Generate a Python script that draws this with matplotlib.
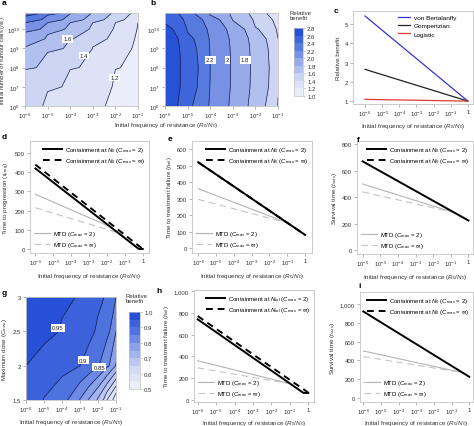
import numpy as np
import matplotlib
matplotlib.use('Agg')
import matplotlib.pyplot as plt
from matplotlib.colors import LinearSegmentedColormap
from matplotlib.lines import Line2D
from matplotlib.ticker import NullLocator

plt.rcParams['font.family'] = ['Liberation Sans', 'DejaVu Sans']
plt.rcParams['mathtext.fontset'] = 'custom'
plt.rcParams['mathtext.rm'] = 'Liberation Sans'
plt.rcParams['mathtext.it'] = 'Liberation Sans:italic'
plt.rcParams['mathtext.bf'] = 'Liberation Sans:bold'

# ---------------- data ----------------
a_freq = [1e-6, 1e-5, 1e-4, 1e-3, 1e-2, 1e-1]
a_cells = [1e6, 1e7, 1e8, 1e9, 3.16e9, 1e10, 3.16e10, 7.08e10]
a_benefit = [
    [1.441, 1.368, 1.294, 1.221, 1.147, 1.074],
    [1.517, 1.431, 1.345, 1.259, 1.172, 1.086],
    [1.625, 1.521, 1.417, 1.313, 1.208, 1.104],
    [1.789, 1.658, 1.526, 1.395, 1.263, 1.132],
    [1.909, 1.758, 1.606, 1.455, 1.303, 1.152],
    [2.071, 1.893, 1.714, 1.536, 1.357, 1.179],
    [2.304, 2.087, 1.870, 1.652, 1.435, 1.217],
    [2.538, 2.282, 2.026, 1.769, 1.513, 1.256],
]
a_label_text = ['1.2', '1.4', '1.6']
b_freq = [1e-6, 1e-5, 1e-4, 1e-3, 1e-2, 1e-1]
b_cells = [1e6, 1e7, 1e8, 1e9, 3.16e9, 1e10, 3.16e10, 7.08e10]
b_benefit = [
    [2.674, 2.418, 2.162, 1.906, 1.650, 1.394],
    [2.704, 2.448, 2.192, 1.936, 1.680, 1.424],
    [2.712, 2.456, 2.200, 1.944, 1.688, 1.432],
    [2.699, 2.443, 2.187, 1.931, 1.675, 1.419],
    [2.681, 2.425, 2.169, 1.913, 1.657, 1.401],
    [2.635, 2.379, 2.123, 1.867, 1.611, 1.355],
    [2.558, 2.302, 2.046, 1.790, 1.534, 1.278],
    [2.482, 2.226, 1.970, 1.714, 1.458, 1.202],
]
b_label_text = ['2.2', '2', '1.8']
ab_levels = [1.0, 1.2, 1.4, 1.6, 1.8, 2.0, 2.2, 2.4, 2.6, 2.8]
ab_ticklabels = ['1.0', '1.2', '1.4', '1.6', '1.8', '2.0', '2.2', '2.4', '2.6', '2.8']

c_freq = [1e-6, 1.0]
c_bertalanffy = [5.42, 1.0]
c_gompertz = [2.65, 1.0]
c_logistic = [1.09, 1.0]

d_cont2_x, d_cont2_y = [1e-6, 0.6, 1.0], [420, 0, 0]
d_continf_x, d_continf_y = [1e-6, 1.0], [440, 0]
d_mtd2_x, d_mtd2_y = [1e-6, 0.0158, 0.6, 1.0], [285, 115, 0, 0]
d_mtdinf_x, d_mtdinf_y = [1e-6, 0.06, 0.6, 1.0], [215, 80, 0, 0]

e_cont2_x, e_cont2_y = [1e-6, 1.0], [520, 80]
e_continf_x, e_continf_y = [1e-6, 1.0], [520, 80]
e_mtd2_x, e_mtd2_y = [1e-6, 0.1, 1.0], [360, 153, 80]
e_mtdinf_x, e_mtdinf_y = [1e-6, 0.1, 1.0], [295, 153, 80]

f_cont2_x, f_cont2_y = [1e-6, 1.0], [670, 225]
f_mtd2_x, f_mtd2_y = [1e-6, 0.158, 1.0], [500, 284, 225]
f_mtdinf_x, f_mtdinf_y = [1e-6, 0.158, 1.0], [440, 284, 225]

g_freq = [1e-6, 1e-5, 1e-4, 1e-3, 3.16e-3, 1e-2, 3.16e-2, 1e-1]
g_dose = [1.5, 2.0, 2.5, 3.0]
g_benefit = [
    [0.930, 0.897, 0.857, 0.797, 0.745, 0.690, 0.600, 0.500],
    [0.950, 0.937, 0.920, 0.900, 0.883, 0.853, 0.810, 0.745],
    [0.968, 0.958, 0.945, 0.925, 0.910, 0.890, 0.862, 0.800],
    [0.978, 0.970, 0.958, 0.942, 0.930, 0.912, 0.890, 0.850],
]
g_levels = [0.5, 0.55, 0.6, 0.65, 0.7, 0.75, 0.8, 0.85, 0.9, 0.95, 1.0]
g_label_text = ['0.95', '0.9', '0.85']
g_ticks = [0.5, 0.6, 0.7, 0.8, 0.9, 1.0]
g_ticklabels = ['0.5', '0.6', '0.7', '0.8', '0.9', '1.0']

h_cont2_x, h_cont2_y = [1e-6, 0.55, 1.0], [740, 65, 65]
h_continf_x, h_continf_y = [1e-6, 1.0], [770, 68]
h_mtd2_x, h_mtd2_y = [1e-6, 0.1, 0.55, 1.0], [360, 150, 65, 65]
h_mtdinf_x, h_mtdinf_y = [1e-6, 0.1, 0.55, 1.0], [295, 150, 65, 65]

i_cont2_x, i_cont2_y = [1e-6, 1.0], [920, 225]
i_mtd2_x, i_mtd2_y = [1e-6, 0.4, 1.0], [500, 270, 225]
i_mtdinf_x, i_mtdinf_y = [1e-6, 0.4, 1.0], [440, 270, 225]

log_ticks = [1e-6, 1e-5, 1e-4, 1e-3, 1e-2, 1e-1]
log_labels = [r'$10^{-6}$', r'$10^{-5}$', r'$10^{-4}$', r'$10^{-3}$', r'$10^{-2}$', r'$10^{-1}$']
log_ticks1 = log_ticks + [1.0]
log_labels1 = log_labels + ['1']

# ---------------- style ----------------
W, H = 474, 427
fig = plt.figure(figsize=(W / 100, H / 100), dpi=100)
FRAME = '#c4c4c4'
TXT = '#333333'
TICKC = '#9a9a9a'
FS = 4.3
LBL = 4.5
LINEC = '#16204e'

cmap = LinearSegmentedColormap.from_list(
    'bl', ['#f2f2fb', '#d3daf5', '#98abea', '#4f74de', '#1d48d4'])


def add_ax(l, t, r, b):
    return fig.add_axes([l / W, 1 - b / H, (r - l) / W, (b - t) / H])


def style(ax):
    for s in ax.spines.values():
        s.set_color(FRAME)
        s.set_linewidth(0.6)
    ax.tick_params(which='both', colors=TICKC, labelcolor=TXT, labelsize=FS,
                   length=2, width=0.5, pad=1.5)


def logx(ax, ticks, labels):
    ax.set_xscale('log')
    ax.set_xticks(ticks)
    ax.set_xticklabels(labels)
    ax.xaxis.set_minor_locator(NullLocator())


def letter(x, y, s):
    fig.text(x / W, 1 - y / H, s, fontsize=6, fontweight='bold', va='top', ha='left')


def contour_panel(ax, X, Y, Z, levels, vmin, vmax, label_pos, label_text):
    cf = ax.contourf(X, Y, Z, levels=levels, cmap=cmap, vmin=vmin, vmax=vmax)
    ax.contour(X, Y, Z, levels=levels, colors=LINEC, linewidths=0.5)
    for (x, y), s in zip(label_pos, label_text):
        ax.text(x, y, s, fontsize=FS, color='#222222', ha='center', va='center', zorder=5,
                bbox=dict(boxstyle='square,pad=0.2', fc='white', ec='none'))
    return cf


xlab = r'Initial frequency of resistance ($R_0/N_0$)'
cell_ticks = [1e6, 1e7, 1e8, 1e9, 1e10]
cell_labels = [r'$10^{6}$', r'$10^{7}$', r'$10^{8}$', r'$10^{9}$', r'$10^{10}$']

# ---------------- panel a ----------------
ax = add_ax(25, 14, 138, 107)
ax.set_xscale('log')
ax.set_yscale('log')
contour_panel(ax, a_freq, a_cells, a_benefit, ab_levels, 1.0, 2.8,
              [(10 ** -2.04, 10 ** 7.48), (10 ** -3.39, 10 ** 8.64), (10 ** -4.13, 10 ** 9.5)],
              a_label_text)
ax.set_yticks(cell_ticks)
ax.set_yticklabels(cell_labels)
ax.yaxis.set_minor_locator(NullLocator())
logx(ax, log_ticks, log_labels)
ax.set_xlim(1e-6, 1e-1)
ax.set_ylim(1e6, 7.08e10)
style(ax)
ax.set_ylabel(r'Initial number of tumour cells ($N_0$)', fontsize=4.2, color=TXT)
ax.yaxis.set_label_coords(-0.155, 0.5)

# ---------------- panel b ----------------
ax = add_ax(165, 14, 278, 107)
ax.set_xscale('log')
ax.set_yscale('log')
cfb = contour_panel(ax, b_freq, b_cells, b_benefit, ab_levels, 1.0, 2.8,
                    [(10 ** -4.0, 10 ** 8.4), (10 ** -3.23, 10 ** 8.4), (10 ** -2.45, 10 ** 8.4)],
                    b_label_text)
ax.set_yticks(cell_ticks)
ax.set_yticklabels(cell_labels)
ax.yaxis.set_minor_locator(NullLocator())
logx(ax, log_ticks, log_labels)
ax.set_xlim(1e-6, 1e-1)
ax.set_ylim(1e6, 7.08e10)
style(ax)
fig.text(166 / W, 1 - 125 / H, xlab, fontsize=LBL, color=TXT, ha='center', va='center')

cax = add_ax(294, 29, 303, 97)
cb = fig.colorbar(cfb, cax=cax, ticks=ab_levels)
cb.ax.set_yticklabels(ab_ticklabels)
cb.outline.set_edgecolor(FRAME)
cb.outline.set_linewidth(0.5)
cb.ax.tick_params(labelsize=FS, length=1.5, width=0.4, colors=TICKC, labelcolor=TXT, pad=1.5)
fig.text(290 / W, 1 - 11 / H, 'Relative\nbenefit', fontsize=FS, color=TXT, va='top',
         ha='left', linespacing=1.1)

# ---------------- panel c ----------------
ax = add_ax(353, 12, 473, 105)
ax.plot(c_freq, c_bertalanffy, color='#3434d4', lw=0.9, label='von Bertalanffy')
ax.plot(c_freq, c_gompertz, color='#222222', lw=0.9, label='Gompertzian')
ax.plot(c_freq, c_logistic, color='#e23a3a', lw=0.9, label='Logistic')
logx(ax, log_ticks1, log_labels1)
ax.set_xlim(10 ** -6.7, 10 ** 0.3)
ax.set_ylim(0.85, 5.68)
ax.set_yticks([1, 2, 3, 4, 5])
style(ax)
ax.set_xlabel(xlab, fontsize=LBL, color=TXT, labelpad=2)
ax.set_ylabel('Relative benefit', fontsize=LBL, color=TXT, labelpad=3)
ax.legend(loc='upper right', bbox_to_anchor=(0.88, 0.99), frameon=False, fontsize=FS + 0.3,
          handlelength=1.8, handletextpad=0.6, labelspacing=0.45, borderaxespad=0)


# ---------------- line panels ----------------
def line_panel(box, cont2, continf, mtd2, mtdinf, xlim, ylim, yticks, yticklabels,
               ylabel, contlabel, xlabelpad=2.5):
    ax = add_ax(*box)
    hm2 = ax.plot(*mtd2, color='#b4b4b4', lw=0.8, zorder=2)[0]
    hmi = ax.plot(*mtdinf, color='#c4c4c4', lw=0.8, ls=(0, (6, 4)), zorder=2)[0]
    if continf is not None:
        hci = ax.plot(*continf, color='black', lw=1.4, ls=(0, (3.5, 2.5)), zorder=3)[0]
    else:
        hci = Line2D([], [], color='black', lw=1.4, ls=(0, (3.5, 2.5)))
    hc2 = ax.plot(*cont2, color='black', lw=1.4, zorder=4)[0]
    logx(ax, log_ticks1, log_labels1)
    ax.set_xlim(*xlim)
    ax.set_ylim(*ylim)
    ax.set_yticks(yticks)
    ax.set_yticklabels(yticklabels)
    style(ax)
    ax.set_xlabel(xlab, fontsize=LBL, color=TXT, labelpad=xlabelpad)
    ax.set_ylabel(ylabel, fontsize=LBL, color=TXT, labelpad=2.5)
    l1 = ax.legend([hc2, hci],
                   [rf'Containment at {contlabel} ($C_{{\rm max}}$ = 2)',
                    rf'Containment at {contlabel} ($C_{{\rm max}}$ = $\infty$)'],
                   loc='upper right', frameon=False, fontsize=FS, handlelength=3.2,
                   handletextpad=0.5, labelspacing=0.25, borderaxespad=0.3)
    ax.add_artist(l1)
    ax.legend([hm2, hmi], [r'MTD ($C_{\rm max}$ = 2)', r'MTD ($C_{\rm max}$ = $\infty$)'],
              loc='lower left', frameon=False, fontsize=FS, handlelength=2.6,
              handletextpad=0.5, labelspacing=0.25, borderaxespad=0.3)
    return ax


line_panel((30, 142, 149, 254), (d_cont2_x, d_cont2_y), (d_continf_x, d_continf_y),
           (d_mtd2_x, d_mtd2_y), (d_mtdinf_x, d_mtdinf_y),
           (10 ** -6.3, 10 ** 0.35), (-21, 563), [0, 100, 200, 300, 400, 500],
           ['0', '100', '200', '300', '400', '500'],
           r'Time to progression ($t_{\rm prog}$)', r'$N_0$')
line_panel((192, 142, 312, 254), (e_cont2_x, e_cont2_y), (e_continf_x, e_continf_y),
           (e_mtd2_x, e_mtd2_y), (e_mtdinf_x, e_mtdinf_y),
           (10 ** -6.35, 10 ** 0.39), (-30, 649), [0, 100, 200, 300, 400, 500, 600],
           ['0', '100', '200', '300', '400', '500', '600'],
           r'Time to treatment failure ($t_{\rm fail}$)', r'$N_0$')
line_panel((357, 142, 473, 255), (f_cont2_x, f_cont2_y), None,
           (f_mtd2_x, f_mtd2_y), (f_mtdinf_x, f_mtdinf_y),
           (10 ** -6.32, 10 ** 0.26), (-27, 823), [0, 200, 400, 600, 800],
           ['0', '200', '400', '600', '800'],
           r'Survival time ($t_{\rm surv}$)', r'$N_0$')

# ---------------- panel g ----------------
ax = add_ax(26, 298, 116, 401)
ax.set_xscale('log')
cfg = contour_panel(ax, g_freq, g_dose, g_benefit, g_levels, 0.5, 1.0,
                    [(10 ** -4.24, 2.55), (10 ** -2.82, 2.08), (10 ** -1.94, 1.98)],
                    g_label_text)
logx(ax, log_ticks, log_labels)
ax.set_xlim(1e-6, 1e-1)
ax.set_ylim(1.5, 3.0)
ax.set_yticks([1.5, 2, 2.5, 3])
ax.set_yticklabels(['1.5', '2', '2.5', '3'])
style(ax)
ax.set_xlabel(xlab, fontsize=LBL, color=TXT, labelpad=2)
ax.set_ylabel(r'Maximum dose ($C_{\rm max}$)', fontsize=LBL, color=TXT, labelpad=2.5)
cax = add_ax(129, 313, 140, 390)
cb = fig.colorbar(cfg, cax=cax, ticks=g_ticks)
cb.ax.set_yticklabels(g_ticklabels)
cb.outline.set_edgecolor(FRAME)
cb.outline.set_linewidth(0.5)
cb.ax.tick_params(labelsize=FS, length=1.5, width=0.4, colors=TICKC, labelcolor=TXT, pad=1.5)
fig.text(126 / W, 1 - 294 / H, 'Relative\nbenefit', fontsize=FS, color=TXT, va='top',
         ha='left', linespacing=1.1)

line_panel((194, 291, 314, 403), (h_cont2_x, h_cont2_y), (h_continf_x, h_continf_y),
           (h_mtd2_x, h_mtd2_y), (h_mtdinf_x, h_mtdinf_y),
           (10 ** -6.2, 10 ** 0.31), (-18, 1009), [0, 200, 400, 600, 800, 1000],
           ['0', '200', '400', '600', '800', '1,000'],
           r'Time to treatment failure ($t_{\rm fail}$)', r'$N_{\rm tol}$', xlabelpad=1.5)
line_panel((360, 293, 473, 403), (i_cont2_x, i_cont2_y), None,
           (i_mtd2_x, i_mtd2_y), (i_mtdinf_x, i_mtdinf_y),
           (10 ** -6.19, 10 ** 0.21), (-43, 1127), [0, 200, 400, 600, 800, 1000],
           ['0', '200', '400', '600', '800', '1,000'],
           r'Survival time ($t_{\rm surv}$)', r'$N_0$', xlabelpad=1.5)

letter(2, 0, 'a')
letter(150, 0, 'b')
letter(334, 8, 'c')
letter(2, 134, 'd')
letter(168, 136, 'e')
letter(357, 137, 'f')
letter(2, 290, 'g')
letter(156, 288, 'h')
letter(358, 283, 'i')

fig.savefig('out.png', dpi=100, facecolor='white')
